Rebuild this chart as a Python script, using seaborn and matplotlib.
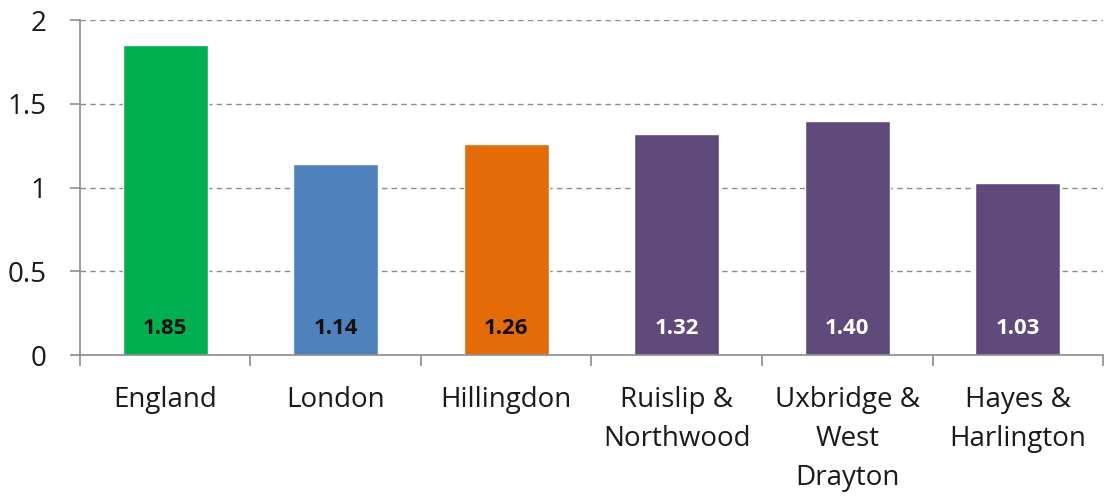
import matplotlib

matplotlib.use("Agg")

import matplotlib.pyplot as plt
import numpy as np
import pandas as pd
import seaborn as sns
from matplotlib.ticker import FixedLocator

areas = ["England", "London", "Hillingdon", "Ruislip &\nNorthwood",
         "Uxbridge &\nWest\nDrayton", "Hayes &\nHarlington"]
values = [1.85, 1.14, 1.26, 1.32, 1.40, 1.03]
bar_colors = ["#00b050", "#4f81bd", "#e36c09", "#604a7b", "#604a7b", "#604a7b"]
label_colors = ["#111111", "#111111", "#111111", "white", "white", "white"]
y_ticks = [0, 0.5, 1, 1.5, 2]
y_tick_labels = ["0", "0.5", "1", "1.5", "2"]

sns.set_theme(style="white")
plt.rcParams["font.family"] = ["Open Sans", "DejaVu Sans"]

df = pd.DataFrame({"area": areas, "value": values})

fig = plt.figure(figsize=(11.09, 4.96), dpi=100)
ax = fig.add_axes([0.0721, 0.284, 0.9225, 0.6754])

sns.barplot(data=df, x="area", y="value", hue="area", palette=bar_colors,
            width=0.5, legend=False, saturation=1, ax=ax)

ax.set_ylim(0, 2)
ax.set_xlim(-0.5, len(areas) - 0.5)
ax.set_yticks(y_ticks)
ax.set_yticklabels(y_tick_labels)
ax.yaxis.grid(True, linestyle=(0, (4, 3)), color="#8c8c8c", linewidth=1)
ax.set_axisbelow(True)

for side in ["top", "right"]:
    ax.spines[side].set_visible(False)
for side in ["left", "bottom"]:
    ax.spines[side].set_color("#8c8c8c")
    ax.spines[side].set_linewidth(1.2)

ax.tick_params(axis="y", which="major", length=7, width=1.2, color="#8c8c8c",
               direction="out", labelsize=20, labelcolor="#1a1a1a", pad=17, left=True)
ax.xaxis.set_minor_locator(FixedLocator(np.arange(-0.5, len(areas), 1.0)))
ax.tick_params(axis="x", which="minor", length=8, width=1.2, color="#8c8c8c",
               direction="out", bottom=True)
ax.tick_params(axis="x", which="major", length=0, labelsize=20,
               labelcolor="#1a1a1a", pad=22)
for lab in ax.get_xticklabels():
    lab.set_linespacing(1.52)

for i, (v, c) in enumerate(zip(values, label_colors)):
    ax.text(i, 0.16, f"{v:.2f}", ha="center", va="center", fontsize=16,
            fontweight="bold", color=c)

ax.set_xlabel("")
ax.set_ylabel("")

fig.savefig("out.png", dpi=100)
